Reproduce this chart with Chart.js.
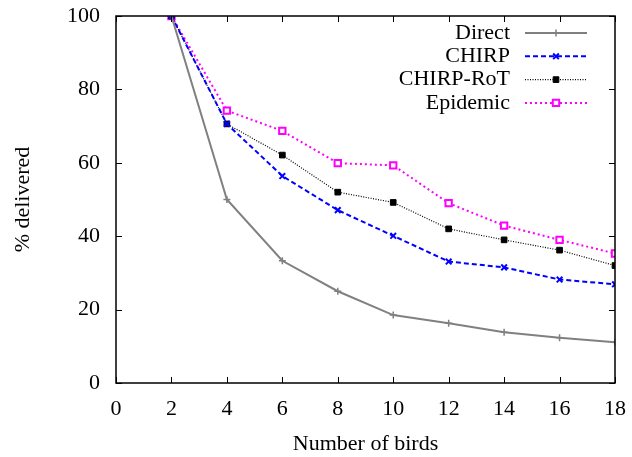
<!DOCTYPE html>
<html>
<head>
<meta charset="utf-8">
<script src="https://cdn.jsdelivr.net/npm/chart.js@4.4.1/dist/chart.umd.min.js"></script>
<style>
  html, body { margin: 0; padding: 0; background: #fff; }
  #wrap { width: 632px; height: 457px; }
</style>
</head>
<body>
<div id="wrap"><canvas id="chart"></canvas></div>
<script>
// numero de pajaros
const birds = [2, 4, 6, 8, 10, 12, 14, 16, 18];

const direct = [100, 50, 33.3, 25, 18.5, 16.3, 13.8, 12.3, 11.1];
const chirp = [100, 70.6, 56.4, 47.1, 40.1, 33.1, 31.5, 28.2, 26.9];
const chirpRot = [100, 70.6, 62.1, 52.0, 49.2, 42.0, 39.0, 36.2, 32.0];
const epidemic = [100, 74.2, 68.7, 59.9, 59.3, 49.0, 42.9, 39.0, 35.3];

const xTicks = [0, 2, 4, 6, 8, 10, 12, 14, 16, 18];
const yTicks = [0, 20, 40, 60, 80, 100];

const FONT = "'Liberation Serif', 'DejaVu Serif', serif";
const FSIZE = 22;

function toPoints(vals) {
  return vals.map((v, i) => ({ x: birds[i], y: v }));
}

// sin relleno extra por las etiquetas
function noPad(s) {
  s.paddingTop = 0;
  s.paddingBottom = 0;
  s.paddingLeft = 0;
  s.paddingRight = 0;
}

// marco + ticks hacia dentro (estilo gnuplot)
const framePlugin = {
  id: "frame",
  afterDatasetsDraw(chart) {
    const { ctx, chartArea: a, scales } = chart;
    ctx.save();
    ctx.strokeStyle = "#000";
    ctx.lineWidth = 1;
    ctx.beginPath();
    xTicks.forEach((t) => {
      const px = Math.round(scales.x.getPixelForValue(t)) + 0.5;
      ctx.moveTo(px, a.bottom);
      ctx.lineTo(px, a.bottom - 6);
      ctx.moveTo(px, a.top);
      ctx.lineTo(px, a.top + 6);
    });
    yTicks.forEach((t) => {
      const py = Math.round(scales.y.getPixelForValue(t)) + 0.5;
      ctx.moveTo(a.left, py);
      ctx.lineTo(a.left + 6, py);
      ctx.moveTo(a.right, py);
      ctx.lineTo(a.right - 6, py);
    });
    ctx.stroke();
    ctx.lineWidth = 1.5;
    ctx.strokeRect(a.left, a.top, a.right - a.left, a.bottom - a.top);
    ctx.restore();
  },
};

// leyenda a la derecha, texto alineado a la derecha
const legendPlugin = {
  id: "gpLegend",
  afterDraw(chart) {
    const { ctx, chartArea: a } = chart;
    const textRight = a.right - 105;
    const lineL = a.right - 90;
    const lineR = a.right - 28;
    ctx.save();
    ctx.font = FSIZE + "px " + FONT;
    ctx.textAlign = "right";
    ctx.textBaseline = "middle";
    chart.data.datasets.forEach((ds, i) => {
      const y = a.top + 17 + i * 23.3;
      ctx.fillStyle = "#000";
      ctx.fillText(ds.label, textRight, y);
      ctx.strokeStyle = ds.borderColor;
      ctx.lineWidth = ds.borderWidth;
      ctx.setLineDash(ds.borderDash || []);
      ctx.beginPath();
      ctx.moveTo(lineL, y);
      ctx.lineTo(lineR, y);
      ctx.stroke();
      ctx.setLineDash([]);
      const opts = {
        pointStyle: ds.pointStyle,
        radius: ds.pointRadius,
        borderWidth: ds.pointBorderWidth,
      };
      ctx.strokeStyle = ds.pointBorderColor;
      ctx.fillStyle = ds.pointBackgroundColor;
      ctx.lineWidth = ds.pointBorderWidth;
      Chart.helpers.drawPoint(ctx, opts, (lineL + lineR) / 2, y);
    });
    ctx.restore();
  },
};

new Chart(document.getElementById("chart"), {
  type: "line",
  data: {
    datasets: [
      {
        label: "Direct",
        data: toPoints(direct),
        borderColor: "#808080",
        borderWidth: 2,
        pointStyle: "cross",
        pointRadius: 3.5,
        pointBorderColor: "#808080",
        pointBackgroundColor: "#808080",
        pointBorderWidth: 1.5,
      },
      {
        label: "CHIRP",
        data: toPoints(chirp),
        borderColor: "#0000ff",
        borderWidth: 2,
        borderDash: [5, 3],
        pointStyle: "crossRot",
        pointRadius: 4,
        pointBorderColor: "#0000ff",
        pointBackgroundColor: "#0000ff",
        pointBorderWidth: 2,
      },
      {
        label: "CHIRP-RoT",
        data: toPoints(chirpRot),
        borderColor: "#000000",
        borderWidth: 1.2,
        borderDash: [1, 1.5],
        pointStyle: "rect",
        pointRadius: 4,
        pointBorderColor: "#000000",
        pointBackgroundColor: "#000000",
        pointBorderWidth: 1,
      },
      {
        label: "Epidemic",
        data: toPoints(epidemic),
        borderColor: "#ff00ff",
        borderWidth: 2,
        borderDash: [2, 3],
        pointStyle: "rect",
        pointRadius: 4.5,
        pointBorderColor: "#ff00ff",
        pointBackgroundColor: "#ffffff",
        pointBorderWidth: 2,
      },
    ],
  },
  options: {
    responsive: true,
    maintainAspectRatio: false,
    animation: false,
    layout: { padding: { top: 16, right: 17, left: 0, bottom: 0 } },
    plugins: {
      legend: { display: false },
      tooltip: { enabled: false },
    },
    elements: { line: { tension: 0 } },
    scales: {
      x: {
        type: "linear",
        min: 0,
        max: 18,
        afterBuildTicks: (s) => { s.ticks = xTicks.map((v) => ({ value: v })); },
        afterFit: (s) => { s.height = 74; noPad(s); },
        grid: { display: false, drawTicks: false },
        border: { display: false },
        ticks: { color: "#000", padding: 13, font: { family: FONT, size: FSIZE } },
        title: {
          display: true,
          text: "Number of birds",
          color: "#000",
          padding: { top: 6, bottom: 0 },
          font: { family: FONT, size: FSIZE },
        },
      },
      y: {
        min: 0,
        max: 100,
        afterBuildTicks: (s) => { s.ticks = yTicks.map((v) => ({ value: v })); },
        afterFit: (s) => { s.width = 116; noPad(s); },
        grid: { display: false, drawTicks: false },
        border: { display: false },
        ticks: { color: "#000", padding: 16, font: { family: FONT, size: FSIZE } },
        title: {
          display: true,
          text: "% delivered",
          color: "#000",
          padding: { top: 10, bottom: 0 },
          font: { family: FONT, size: FSIZE },
        },
      },
    },
  },
  plugins: [framePlugin, legendPlugin],
});
</script>
</body>
</html>
